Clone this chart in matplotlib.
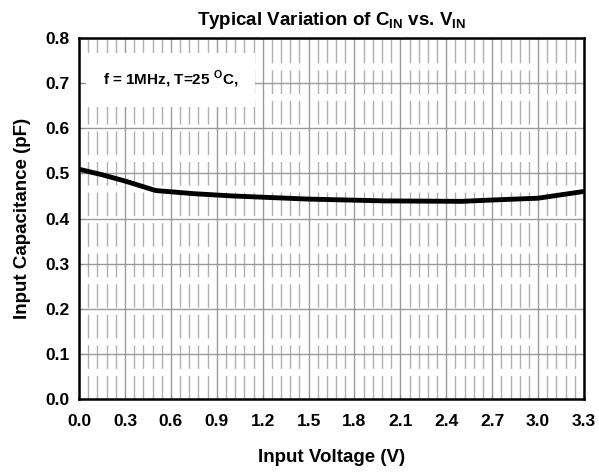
import matplotlib
matplotlib.use("Agg")
import matplotlib.pyplot as plt
from matplotlib.ticker import MultipleLocator

plt.rcParams["font.family"] = ["Liberation Sans", "DejaVu Sans"]
plt.rcParams["font.weight"] = "bold"
plt.rcParams["mathtext.fontset"] = "custom"
plt.rcParams["mathtext.rm"] = "Liberation Sans:bold"
plt.rcParams["mathtext.bf"] = "Liberation Sans:bold"

# values
vin = [0.0, 0.15, 0.3, 0.5, 0.75, 1.0, 1.5, 2.0, 2.5, 2.7, 3.0, 3.3]
cin = [0.509, 0.497, 0.483, 0.462, 0.455, 0.450, 0.443, 0.439, 0.438, 0.441, 0.445, 0.460]
x_ticks = [0.0, 0.3, 0.6, 0.9, 1.2, 1.5, 1.8, 2.1, 2.4, 2.7, 3.0, 3.3]
y_ticks = [0.0, 0.1, 0.2, 0.3, 0.4, 0.5, 0.6, 0.7, 0.8]

fig = plt.figure(figsize=(5.99, 4.73), dpi=100)
ax = fig.add_axes([0.132, 0.156, 0.843, 0.764])

ax.set_xlim(0, 3.3)
ax.set_ylim(0, 0.8)
ax.set_xticks(x_ticks)
ax.set_yticks(y_ticks)
ax.set_xticklabels([f"{v:.1f}" for v in x_ticks], fontsize=12.5, fontweight="bold")
ax.set_yticklabels([f"{v:.1f}" for v in y_ticks], fontsize=12.5, fontweight="bold")
ax.xaxis.set_minor_locator(MultipleLocator(0.06))

ax.grid(which="major", color="#9a9a9a", lw=1.0)
ax.grid(which="minor", axis="x", color="#b0b0b0", lw=1.0, linestyle=(0, (17, 5)))
ax.tick_params(which="both", direction="in", length=3, color="#888888")
ax.tick_params(which="minor", length=0)
ax.tick_params(axis="x", pad=11)
ax.tick_params(axis="y", pad=7)
ax.set_axisbelow(True)

for s in ax.spines.values():
    s.set_linewidth(1.8)
    s.set_color("black")

ax.plot(vin, cin, color="black", lw=3.5, solid_capstyle="butt", zorder=5)

ax.text(0.157, 0.707, r"f = 1MHz, T=25 $^{\mathbf{O}}$C,", fontsize=11, fontweight="bold",
        va="center", ha="left",
        bbox=dict(facecolor="white", edgecolor="none", pad=12), zorder=6)

ax.set_title(r"Typical Variation of C$_{\mathbf{IN}}$ vs. V$_{\mathbf{IN}}$",
             fontsize=13.5, fontweight="bold", pad=9)
ax.set_xlabel("Input Voltage (V)", fontsize=13.5, fontweight="bold", labelpad=14)
ax.set_ylabel("Input Capacitance (pF)", fontsize=13.5, fontweight="bold", labelpad=10)

fig.savefig("out.png", dpi=100)
